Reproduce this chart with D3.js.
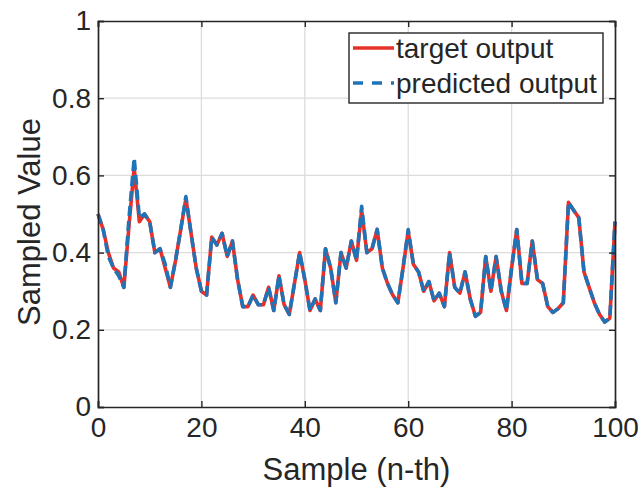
<!DOCTYPE html>
<html>
<head>
<meta charset="utf-8">
<script src="https://cdn.jsdelivr.net/npm/d3@7/dist/d3.min.js"></script>
<style>
  html, body { margin: 0; padding: 0; background: #ffffff; }
  svg { display: block; }
  text { font-family: "Liberation Sans", Arial, Helvetica, sans-serif; fill: #262626; }
</style>
</head>
<body>
<svg id="chart" width="641" height="488"></svg>
<script>
// ---- data ----
const samples = d3.range(0, 101);
const targetOutput = [
  0.50, 0.46, 0.40, 0.36, 0.35, 0.31, 0.47, 0.62, 0.48, 0.50,
  0.48, 0.40, 0.41, 0.36, 0.31, 0.38, 0.46, 0.54, 0.45, 0.36,
  0.30, 0.29, 0.44, 0.42, 0.45, 0.39, 0.43, 0.33, 0.26, 0.26,
  0.29, 0.265, 0.265, 0.31, 0.25, 0.34, 0.265, 0.24, 0.32, 0.40,
  0.33, 0.25, 0.28, 0.25, 0.41, 0.36, 0.27, 0.40, 0.36, 0.43,
  0.38, 0.51, 0.40, 0.41, 0.46, 0.36, 0.32, 0.29, 0.27, 0.36,
  0.455, 0.37, 0.35, 0.30, 0.325, 0.275, 0.295, 0.26, 0.40, 0.31,
  0.295, 0.35, 0.28, 0.235, 0.245, 0.39, 0.30, 0.39, 0.30, 0.25,
  0.36, 0.46, 0.32, 0.32, 0.43, 0.33, 0.32, 0.26, 0.245, 0.255,
  0.27, 0.53, 0.51, 0.49, 0.35, 0.31, 0.27, 0.24, 0.22, 0.23,
  0.48
];
const predictedOutput = [
  0.50, 0.46, 0.39, 0.36, 0.34, 0.31, 0.49, 0.645, 0.49, 0.50,
  0.48, 0.40, 0.41, 0.37, 0.31, 0.38, 0.46, 0.545, 0.45, 0.36,
  0.30, 0.29, 0.44, 0.42, 0.45, 0.39, 0.43, 0.33, 0.26, 0.26,
  0.29, 0.265, 0.265, 0.31, 0.25, 0.34, 0.265, 0.24, 0.32, 0.40,
  0.33, 0.25, 0.28, 0.25, 0.41, 0.36, 0.27, 0.40, 0.36, 0.43,
  0.38, 0.52, 0.40, 0.41, 0.46, 0.36, 0.32, 0.29, 0.27, 0.36,
  0.46, 0.37, 0.35, 0.30, 0.325, 0.275, 0.295, 0.26, 0.40, 0.31,
  0.295, 0.35, 0.28, 0.235, 0.245, 0.39, 0.30, 0.39, 0.30, 0.25,
  0.36, 0.46, 0.32, 0.32, 0.43, 0.33, 0.32, 0.26, 0.245, 0.255,
  0.27, 0.53, 0.51, 0.49, 0.35, 0.31, 0.27, 0.24, 0.22, 0.23,
  0.48
];
const xTicks = [0, 20, 40, 60, 80, 100];
const yTicks = [0, 0.2, 0.4, 0.6, 0.8, 1];
const yTickLabels = ["0", "0.2", "0.4", "0.6", "0.8", "1"];
const seriesNames = ["target output", "predicted output"];
const seriesColors = ["#e8302a", "#1f74b8"];

// ---- layout ----
const mLeft = 98, mRight = 615, mTop = 21, mBottom = 407;
const svg = d3.select("#chart");
const x = d3.scaleLinear().domain([0, 100]).range([mLeft, mRight]);
const y = d3.scaleLinear().domain([0, 1]).range([mBottom, mTop]);

// grid
const grid = svg.append("g");
grid.selectAll("line.gx").data(xTicks.slice(1, -1)).enter().append("line")
  .attr("x1", d => x(d)).attr("x2", d => x(d)).attr("y1", mTop).attr("y2", mBottom)
  .attr("stroke", "#dcdcdc").attr("stroke-width", 1.3);
grid.selectAll("line.gy").data(yTicks.slice(1, -1)).enter().append("line")
  .attr("x1", mLeft).attr("x2", mRight).attr("y1", d => y(d)).attr("y2", d => y(d))
  .attr("stroke", "#dcdcdc").attr("stroke-width", 1.3);

// lines
const line = d3.line().x((d, i) => x(samples[i])).y(d => y(d));
svg.append("path").datum(targetOutput).attr("d", line)
  .attr("fill", "none").attr("stroke", seriesColors[0]).attr("stroke-width", 3.6)
  .attr("stroke-linejoin", "round");
svg.append("path").datum(predictedOutput).attr("d", line)
  .attr("fill", "none").attr("stroke", seriesColors[1]).attr("stroke-width", 3.6)
  .attr("stroke-dasharray", "10,5").attr("stroke-linejoin", "round");

// axes
const tickLen = 6;
const axisColor = "#262626";
const xb = svg.append("g").attr("transform", `translate(0,${mBottom})`)
  .call(d3.axisBottom(x).tickValues(xTicks).tickSize(-tickLen).tickPadding(10).tickFormat(d3.format("d")));
const xt = svg.append("g").attr("transform", `translate(0,${mTop})`)
  .call(d3.axisTop(x).tickValues(xTicks).tickSize(-tickLen).tickFormat(""));
const yl = svg.append("g").attr("transform", `translate(${mLeft},0)`)
  .call(d3.axisLeft(y).tickValues(yTicks).tickSize(-tickLen).tickPadding(7).tickFormat((d, i) => yTickLabels[i]));
const yr = svg.append("g").attr("transform", `translate(${mRight},0)`)
  .call(d3.axisRight(y).tickValues(yTicks).tickSize(-tickLen).tickFormat(""));
[xb, xt, yl, yr].forEach(g => {
  g.select(".domain").attr("stroke", axisColor).attr("stroke-width", 1.7);
  g.selectAll(".tick line").attr("stroke", axisColor).attr("stroke-width", 1.4);
  g.selectAll(".tick text").attr("fill", "#262626").style("font-size", "28px")
    .style("font-family", '"Liberation Sans", Arial, sans-serif');
});

// axis labels
svg.append("text").attr("x", (mLeft + mRight) / 2).attr("y", 480)
  .attr("text-anchor", "middle").style("font-size", "31px").text("Sample (n-th)");
svg.append("text").attr("transform", `translate(40,${222}) rotate(-90)`)
  .attr("text-anchor", "middle").style("font-size", "31px").text("Sampled Value");

// legend
const lg = svg.append("g");
lg.append("rect").attr("x", 349).attr("y", 33).attr("width", 254).attr("height", 70)
  .attr("fill", "#ffffff").attr("stroke", axisColor).attr("stroke-width", 1.4);
const legendRows = [0, 1];
lg.selectAll("line.leg").data(legendRows).enter().append("line")
  .attr("x1", 353).attr("x2", 394)
  .attr("y1", d => 48 + d * 35).attr("y2", d => 48 + d * 35)
  .attr("stroke", d => seriesColors[d]).attr("stroke-width", 3.6)
  .attr("stroke-dasharray", d => d === 1 ? "10,9" : null);
lg.selectAll("text.leg").data(legendRows).enter().append("text")
  .attr("x", 396).attr("y", d => 58 + d * 35)
  .style("font-size", "28px").text(d => seriesNames[d]);
</script>
</body>
</html>
